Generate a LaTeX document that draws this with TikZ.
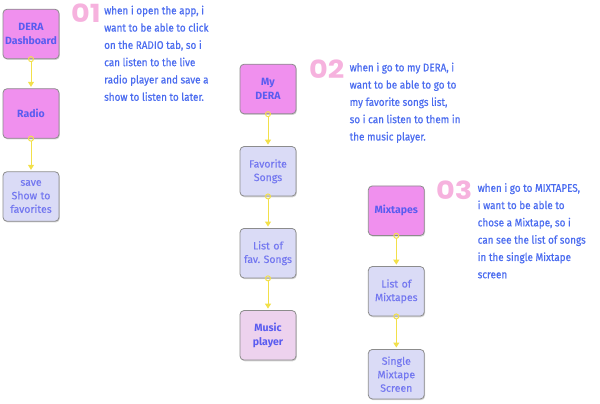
\documentclass[tikz,border=0pt]{standalone}
\usepackage{fontspec}
\setmainfont{Fira Sans}
\frenchspacing
\newfontfamily\parafont[FakeStretch=0.9, FakeBold=0.6]{Fira Sans}
\newfontfamily\lavfont[FakeBold=0.3]{Fira Sans}
\newfontfamily\numfont[FakeStretch=1.15]{Poppins}
\usetikzlibrary{shadows,arrows.meta}
\definecolor{magbox}{HTML}{F090EE}
\definecolor{lavbox}{HTML}{DADBF6}
\definecolor{pinkbox}{HTML}{EDD2EE}
\definecolor{boxtxt}{HTML}{5A5CF0}
\definecolor{lavtxt}{HTML}{7478F0}
\definecolor{paratxt}{HTML}{4B6CEF}
\definecolor{numpink}{HTML}{F6B2DE}
\definecolor{connyel}{HTML}{F2E04A}
\definecolor{bordergray}{HTML}{8C8C8C}
\tikzset{
  box/.style={draw=bordergray, line width=0.8pt, rounded corners=4pt,
    minimum width=56pt, minimum height=49.5pt, text width=54pt, align=center,
    inner sep=0pt, font=\fontsize{10.5}{13.5}\selectfont,
    drop shadow={shadow xshift=0.8pt, shadow yshift=-1.2pt, opacity=0.35}},
  mainbox/.style={box, fill=magbox, text=boxtxt, font=\fontsize{10.5}{13.5}\selectfont\bfseries},
  subbox/.style={box, fill=lavbox, text=lavtxt, font=\lavfont\fontsize{10.5}{13.5}\selectfont},
  endbox/.style={box, fill=pinkbox, text=boxtxt, font=\fontsize{10.5}{13.5}\selectfont\bfseries},
  conn/.style={draw=connyel, line width=1pt, -{Triangle[length=5pt,width=6pt]}, shorten >=1.5pt, shorten <=2.5pt},
  ring/.style={draw=connyel, line width=1pt},
  para/.style={anchor=north west, align=left, inner sep=0pt, text=paratxt, font=\parafont\fontsize{11}{17.3}\selectfont},
  num/.style={anchor=north west, inner sep=0pt, text=numpink, font=\numfont\fontsize{25}{25}\selectfont\bfseries}
}
\begin{document}
\begin{tikzpicture}[x=1pt,y=-1pt]
\useasboundingbox (0,0) rectangle (600,404);
% column 1
\node[mainbox] (dash) at (31,34) {DERA\\Dashboard};
\node[mainbox] (radio) at (31,113.5) {Radio};
\node[subbox] (save) at (31,196.5) {save\\Show to\\favorites};
\draw[conn] (dash.south) -- (radio.north);
\draw[ring] (dash.south) circle[radius=2.5pt];
\draw[conn] (radio.south) -- (save.north);
\draw[ring] (radio.south) circle[radius=2.5pt];
\node[num] (n1) at (71,4) {01};
\node[para] (p1) at (104,5.5) {when i open the app, i\\want to be able to click\\on the RADIO tab, so i\\can listen to the live\\radio player and save a\\show to listen to later.};
% column 2
\node[mainbox] (mydera) at (268,89) {My\\DERA};
\node[subbox] (fav) at (268,171.3) {Favorite\\Songs};
\node[subbox] (list) at (268,253.2) {List of\\fav. Songs};
\node[endbox] (music) at (268,335.3) {Music\\player};
\draw[conn] (mydera.south) -- (fav.north);
\draw[ring] (mydera.south) circle[radius=2.5pt];
\draw[conn] (fav.south) -- (list.north);
\draw[ring] (fav.south) circle[radius=2.5pt];
\draw[conn] (list.south) -- (music.north);
\draw[ring] (list.south) circle[radius=2.5pt];
\node[num] (n2) at (309,60) {02};
\node[para] (p2) at (349.5,62.5) {when i go to my DERA, i\\want to be able to go to\\my favorite songs list,\\so i can listen to them in\\the music player.};
% column 3
\node[mainbox] (mix) at (396.3,210.7) {Mixtapes};
\node[subbox] (listmix) at (396.3,291.3) {List of\\Mixtapes};
\node[subbox] (single) at (396.3,374.2) {Single\\Mixtape\\Screen};
\draw[conn] (mix.south) -- (listmix.north);
\draw[ring] (mix.south) circle[radius=2.5pt];
\draw[conn] (listmix.south) -- (single.north);
\draw[ring] (listmix.south) circle[radius=2.5pt];
\node[num] (n3) at (436,181) {03};
\node[para] (p3) at (477.5,183) {when i go to MIXTAPES,\\i want to be able to\\chose a Mixtape, so i\\can see the list of songs\\in the single Mixtape\\screen};
\end{tikzpicture}
\end{document}
